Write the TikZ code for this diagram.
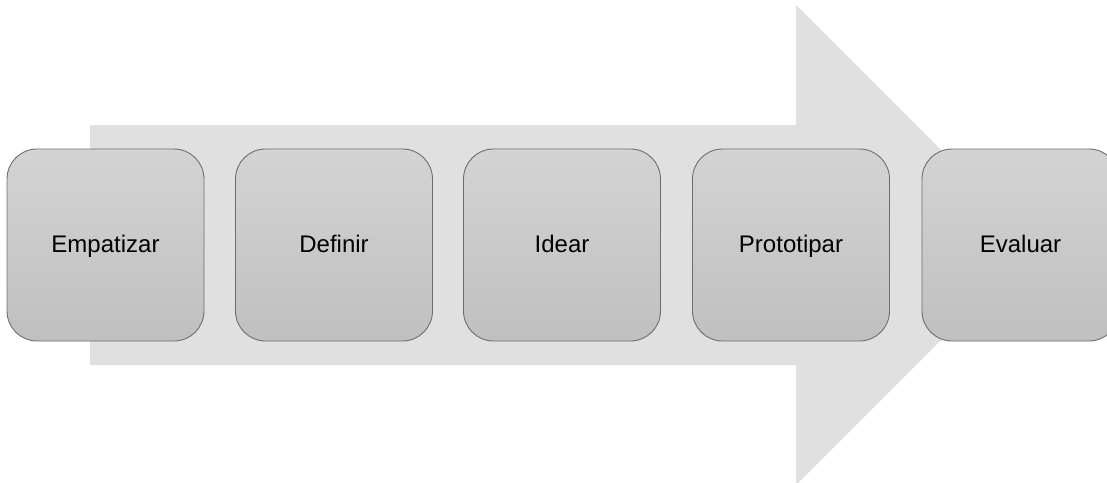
\documentclass[tikz,border=0pt]{standalone}
\usepackage{fontspec}
\setmainfont{Liberation Sans}
\tikzset{
  fase/.style={rectangle, rounded corners=30pt, minimum width=197pt, minimum height=192pt,
    inner sep=0pt, draw=black!57, line width=0.9pt, top color=black!17, bottom color=black!25,
    text height=17pt, text depth=3pt, font=\fontsize{24}{28}\selectfont},
  flecha/.style={fill=black!12, draw=none}
}
\begin{document}
\begin{tikzpicture}[x=1pt,y=-1pt]
\useasboundingbox (0,0) rectangle (1107,482);
\clip (0,0) rectangle (1107,482);
\coordinate (fl0) at (90,125);
\coordinate (fl1) at (796,125);
\coordinate (fl2) at (796,5);
\coordinate (fl3) at (1036,245);
\coordinate (fl4) at (796,485);
\coordinate (fl5) at (796,365);
\coordinate (fl6) at (90,365);
\fill[flecha] (fl0) -- (fl1) -- (fl2) -- (fl3) -- (fl4) -- (fl5) -- (fl6) -- cycle;
\node[fase] (fase0) at (105.5,245){Empatizar};
\node[fase] (fase1) at (334,245){Definir};
\node[fase] (fase2) at (562,245){Idear};
\node[fase] (fase3) at (791,245){Prototipar};
\node[fase] (fase4) at (1020.5,245){Evaluar};
\end{tikzpicture}
\end{document}
